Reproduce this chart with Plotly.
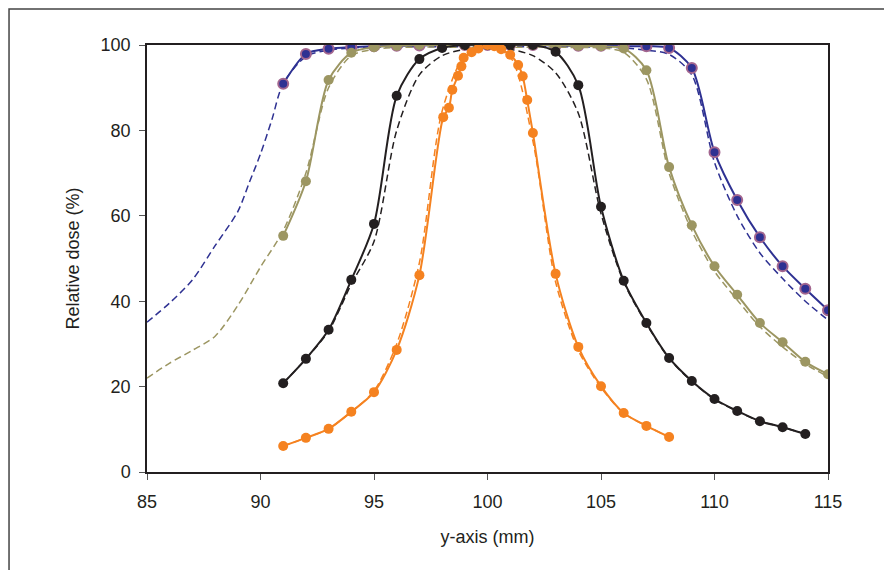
import plotly.graph_objects as go

# ---- data ----
x_int = list(range(91, 116))

blue_solid_x = x_int
blue_solid_y = [90.9, 97.9, 99.1, 99.5, 99.7, 99.8, 99.9, 100, 100, 100, 100, 100, 99.9,
                99.8, 99.8, 99.7, 99.7, 99.3, 94.6, 74.9, 63.7, 55.0, 48.2, 42.9, 37.9]
blue_dash_x = [85, 86, 87, 88, 89, 89.5, 90, 90.5, 91, 92, 93, 94, 95, 96, 97, 98, 99, 100,
               101, 102, 103, 104, 105, 106, 107, 108, 109, 110, 111, 112, 113, 114, 115]
blue_dash_y = [35.1, 39.6, 45.0, 53.0, 61.0, 67.7, 74.5, 82.5, 91.0, 97.3, 98.8, 99.3, 99.5,
               99.6, 99.6, 99.6, 99.6, 99.6, 99.6, 99.6, 99.6, 99.6, 99.5, 99.3, 98.8, 97.8,
               93.0, 72.5, 60.0, 51.3, 45.3, 40.0, 35.6]

olive_solid_x = x_int
olive_solid_y = [55.3, 68.1, 91.8, 98.2, 99.5, 99.8, 100, 100, 100, 100, 100, 100, 100,
                 99.8, 99.7, 99.2, 94.1, 71.4, 57.8, 48.2, 41.5, 34.9, 30.4, 25.8, 22.9]
olive_dash_x = [85, 86, 87, 88, 89, 90, 91, 92, 93, 94, 95, 96, 97, 98, 99, 100, 101, 102,
                103, 104, 105, 106, 107, 108, 109, 110, 111, 112, 113, 114, 115]
olive_dash_y = [22.0, 25.5, 28.5, 31.8, 39.0, 48.0, 56.5, 70.0, 90.0, 97.5, 99.0, 99.4, 99.5,
                99.5, 99.5, 99.5, 99.5, 99.5, 99.5, 99.4, 99.3, 98.3, 92.0, 70.0, 56.5, 47.0,
                40.3, 34.0, 29.3, 25.3, 22.3]

black_solid_x = list(range(91, 115))
black_solid_y = [20.8, 26.5, 33.3, 45.0, 58.1, 88.1, 96.7, 99.3, 100, 100, 100, 100, 98.4,
                 90.6, 62.1, 44.8, 34.9, 26.7, 21.3, 17.1, 14.3, 11.9, 10.5, 8.9]
black_dash_x = list(range(91, 115))
black_dash_y = [20.8, 26.5, 33.0, 44.0, 54.0, 80.0, 93.0, 97.5, 99.0, 99.5, 99.0, 97.5, 93.5,
                84.0, 60.5, 44.5, 34.7, 26.6, 21.2, 17.0, 14.2, 11.9, 10.5, 8.9]

orange_solid_x = [91, 92, 93, 94, 95, 96, 97, 98.05, 98.3, 98.45, 98.7, 98.85, 98.95, 99.3,
                  99.6, 100, 100.3, 100.6, 101, 101.35, 101.55, 101.75, 102.0, 103, 104, 105,
                  106, 107, 108]
orange_solid_y = [6.1, 8.0, 10.1, 14.1, 18.7, 28.6, 46.1, 83.1, 85.3, 89.5, 92.8, 95.0, 97.0,
                  98.3, 99.2, 100, 99.7, 99.0, 97.7, 95.3, 92.7, 87.1, 79.4, 46.4, 29.3, 20.1,
                  13.8, 10.8, 8.2]
orange_dash_x = list(range(91, 109))
orange_dash_y = [6.1, 8.0, 10.1, 14.1, 19.0, 30.0, 49.0, 84.5, 97.5, 99.6, 97.2, 77.5, 44.5,
                 28.5, 19.8, 13.8, 10.8, 8.2]

x_ticks = [85, 90, 95, 100, 105, 110, 115]
y_ticks = [0, 20, 40, 60, 80, 100]

BLUE = "#2e3192"
MAUVE = "#a3668f"
OLIVE = "#9c9662"
BLACK = "#231f20"
ORANGE = "#f58220"
FONT = "Liberation Sans, Arial, sans-serif"

fig = go.Figure()

def dashed(x, y, color):
    fig.add_trace(go.Scatter(x=x, y=y, mode="lines",
                             line=dict(color=color, width=1.5, dash="7px,4px",
                                       shape="spline", smoothing=0.8),
                             hoverinfo="skip", showlegend=False))

def solid(x, y, color, mcolor, mline=None):
    fig.add_trace(go.Scatter(x=x, y=y, mode="lines+markers",
                             line=dict(color=color, width=2, shape="spline", smoothing=0.8),
                             marker=dict(size=10, color=mcolor,
                                         line=dict(color=mline or mcolor, width=2 if mline else 0)),
                             showlegend=False))

dashed(blue_dash_x, blue_dash_y, BLUE)
solid(blue_solid_x, blue_solid_y, BLUE, BLUE, MAUVE)
dashed(olive_dash_x, olive_dash_y, OLIVE)
solid(olive_solid_x, olive_solid_y, OLIVE, OLIVE)
dashed(black_dash_x, black_dash_y, BLACK)
solid(black_solid_x, black_solid_y, BLACK, BLACK)
dashed(orange_dash_x, orange_dash_y, ORANGE)
solid(orange_solid_x, orange_solid_y, ORANGE, ORANGE)

fig.update_layout(
    width=892, height=570,
    margin=dict(l=139, r=72, t=37, b=106),
    paper_bgcolor="white", plot_bgcolor="white",
    font=dict(family=FONT, size=18, color="#231f20"),
    xaxis=dict(range=[85, 115], tickvals=x_ticks, ticks="outside", ticklen=6,
               tickcolor="#555", showline=True, linecolor="#231f20", linewidth=1.5,
               mirror=True, showgrid=False, zeroline=False, ticklabelstandoff=7,
               tickfont=dict(family=FONT, size=18, color="#231f20"),
               title=dict(text="y-axis (mm)", standoff=19,
                          font=dict(family=FONT, size=18, color="#231f20"))),
    yaxis=dict(range=[0, 100], tickvals=y_ticks, ticks="outside", ticklen=6,
               tickcolor="#555", showline=True, linecolor="#231f20", linewidth=1.5,
               mirror=True, showgrid=False, zeroline=False, ticklabelstandoff=5,
               tickfont=dict(family=FONT, size=18, color="#231f20"),
               title=dict(text="Relative dose (%)", standoff=16,
                          font=dict(family=FONT, size=18, color="#231f20"))),
    shapes=[dict(type="rect", xref="paper", yref="paper",
                 x0=-0.2026, x1=1.3, y0=-0.5, y1=1.0843,
                 line=dict(color="#444", width=1.5), layer="below")],
)

fig.write_html("out.html")
